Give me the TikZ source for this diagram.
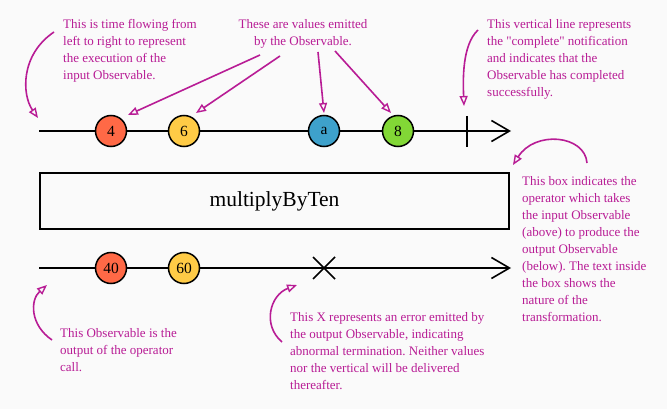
\documentclass[tikz,border=0pt]{standalone}
\usepackage{fontspec}
\setmainfont{Liberation Serif}
\usetikzlibrary{arrows.meta}
\definecolor{bgc}{HTML}{FAFAFA}
\definecolor{annot}{HTML}{B81C95}
\definecolor{cred}{HTML}{FF6946}
\definecolor{cyel}{HTML}{FFCB46}
\definecolor{cblue}{HTML}{3EA1CB}
\definecolor{cgreen}{HTML}{82D736}
\frenchspacing
\begin{document}
\begin{tikzpicture}[x=1pt,y=-1pt,
  marble/.style={circle,draw=black,line width=1.5pt,minimum size=31pt,inner sep=0pt,font=\fontsize{15.5}{15.5}\selectfont},
  timeline/.style={line width=1.6pt,-{Straight Barb[length=18pt,width=21pt,line width=1.6pt]}},
  note/.style={text=annot,align=left,anchor=north west,inner sep=0pt,font=\fontsize{13}{17}\selectfont},
  pointer/.style={draw=annot,line width=1.6pt,-{Triangle[open,length=10pt,width=8pt,line width=1.4pt]}}]
\fill[bgc] (0,0) rectangle (667,409);
\useasboundingbox (0,0) rectangle (667,409);

% input timeline
\coordinate (s1) at (39,131);
\coordinate (e1) at (511,131);
\draw[timeline] (s1) -- (e1);
\coordinate (c1) at (467,116);
\coordinate (c2) at (467,147);
\draw[line width=1.6pt] (c1) -- (c2);
\node[marble,fill=cred] (m4) at (111,131) {4};
\node[marble,fill=cyel] (m6) at (184,131) {6};
\node[marble,fill=cblue] (ma) at (324,131) {a};
\node[marble,fill=cgreen] (m8) at (398,131) {8};

% operator box
\node[draw=black,line width=1.6pt,minimum width=469pt,minimum height=56pt,inner sep=0pt,font=\fontsize{21.5}{21.5}\selectfont] (op) at (274.5,201) {multiplyByTen};

% output timeline
\coordinate (s2) at (39,268);
\coordinate (e2) at (511,268);
\draw[timeline] (s2) -- (e2);
\node[marble,fill=cred] (m40) at (111,268) {40};
\node[marble,fill=cyel] (m60) at (184,268) {60};
\coordinate (xa) at (313,257);
\coordinate (xb) at (335,279);
\coordinate (xc) at (313,279);
\coordinate (xd) at (335,257);
\draw[line width=1.6pt] (xa) -- (xb) (xc) -- (xd);

% annotations
\node[note] (t1) at (63,19) {This is time flowing from\\left to right to represent\\the execution of the\\input Observable.};
\node[note,align=center,anchor=north] (t2) at (303,19) {These are values emitted\\by the Observable.};
\node[note] (t3) at (487,19) {This vertical line represents\\the \textquotedbl complete\textquotedbl{} notification\\and indicates that the\\Observable has completed\\successfully.};
\node[note] (t4) at (522,176) {This box indicates the\\operator which takes\\the input Observable\\(above) to produce the\\output Observable\\(below). The text inside\\the box shows the\\nature of the\\transformation.};
\node[note] (t5) at (60,328) {This Observable is the\\output of the operator\\call.};
\node[note] (t6) at (290,312) {This X represents an error emitted by\\the output Observable, indicating\\abnormal termination. Neither values\\nor the vertical will be delivered\\thereafter.};

% pointer arrows
\coordinate (p1s) at (54,32);   \coordinate (p1e) at (38,118);
\draw[pointer] (p1s) .. controls (20,55) and (22,95) .. (p1e);
\coordinate (p2s) at (260,55);  \coordinate (p2e) at (128,115);
\draw[pointer] (p2s) -- (p2e);
\coordinate (p3s) at (280,56);  \coordinate (p3e) at (196,113);
\draw[pointer] (p3s) -- (p3e);
\coordinate (p4s) at (318,52);  \coordinate (p4e) at (324,113);
\draw[pointer] (p4s) -- (p4e);
\coordinate (p5s) at (335,51);  \coordinate (p5e) at (391,113);
\draw[pointer] (p5s) -- (p5e);
\coordinate (p6s) at (478,30);  \coordinate (p6e) at (464,106);
\draw[pointer] (p6s) .. controls (462,45) and (463,80) .. (p6e);
\coordinate (p7s) at (587,163); \coordinate (p7e) at (513,165);
\draw[pointer] (p7s) .. controls (585,135) and (535,130) .. (p7e);
\coordinate (p8s) at (52,340);  \coordinate (p8e) at (47,285);
\draw[pointer] (p8s) .. controls (30,325) and (30,300) .. (p8e);
\coordinate (p9s) at (282,342); \coordinate (p9e) at (297,285);
\draw[pointer] (p9s) .. controls (262,325) and (270,295) .. (p9e);
\end{tikzpicture}
\end{document}
